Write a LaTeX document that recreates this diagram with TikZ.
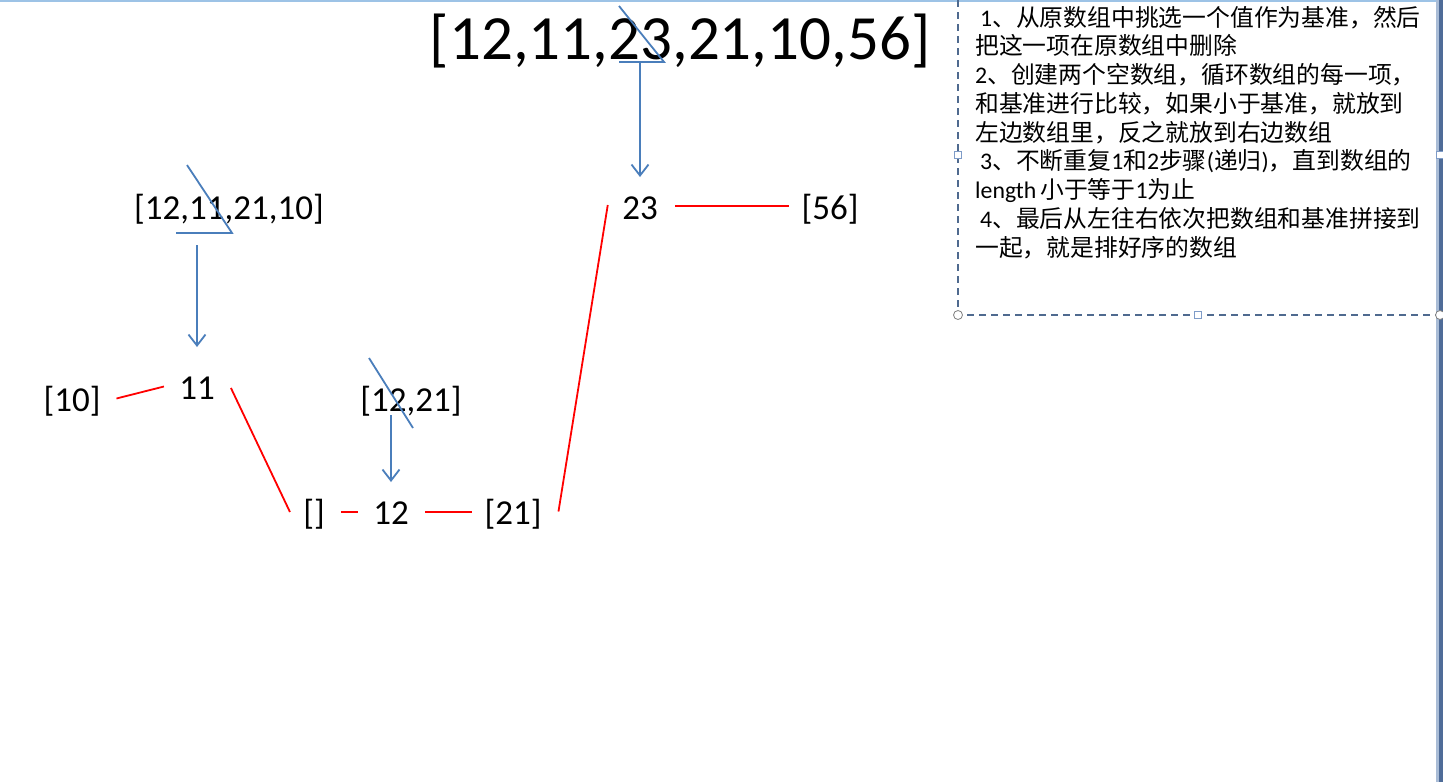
\documentclass[tikz,border=0pt]{standalone}
\usepackage{fontspec}
\setmainfont{Carlito}
\newfontfamily\cjk{Noto Sans CJK SC}
\usetikzlibrary{arrows.meta,calc}
\definecolor{arrowblue}{HTML}{4A7EBB}
\definecolor{boxline}{HTML}{4F6A8F}
\definecolor{handle}{HTML}{7F9CC8}
\definecolor{topline}{HTML}{9DC3E6}
\definecolor{barlight}{HTML}{A9BCD6}
\definecolor{bardark}{HTML}{4F6C98}
\tikzset{
  lbl/.style={font=\fontsize{35}{40}\selectfont, inner sep=0pt, anchor=base},
  biglbl/.style={font=\fontsize{63}{70}\selectfont, inner sep=0pt, anchor=base},
  tline/.style={font=\fontsize{23.8}{28}\selectfont, inner sep=0pt, anchor=base west},
  redline/.style={draw=red, line width=1.8pt},
  bluearrow/.style={draw=arrowblue, line width=1.8pt, -{Straight Barb[length=11pt,width=17pt,line width=1.8pt]}},
  strike/.style={draw=arrowblue, line width=1.8pt},
  sqhandle/.style={draw=handle, fill=white, line width=1pt, minimum size=7pt, inner sep=0pt},
  cirhandle/.style={circle, draw=gray, fill=white, line width=0.8pt, minimum size=9pt, inner sep=0pt}
}
\begin{document}
\begin{tikzpicture}[x=1pt,y=1pt]
\useasboundingbox (0,0) rectangle (1443,-782);
\fill[white] (0,0) rectangle (1443,-782);
% window edges
\fill[topline] (0,0) rectangle (1437,-2);
\fill[barlight] (1436,0) rectangle (1439,-782);
\fill[bardark] (1439,0) rectangle (1443,-782);

% text box
\draw[boxline, line width=1.2pt, dash pattern=on 7pt off 5pt] (958,0) -- (958,-315) -- (1440,-315);
\node[sqhandle] (h1) at (958,-155) {};
\node[sqhandle] (h2) at (1440,-155) {};
\node[sqhandle] (h3) at (1198,-315) {};
\node[cirhandle] (h4) at (958,-315) {};
\node[cirhandle] (h5) at (1440,-315) {};

\node[tline] (t1) at (980,-26) {1{\cjk 、从原数组中挑选一个值作为基准，然后}};
\node[tline] (t2) at (975,-54.75) {{\cjk 把这一项在原数组中删除}};
\node[tline] (t3) at (975,-83.5) {2{\cjk 、创建两个空数组，循环数组的每一项，}};
\node[tline] (t4) at (975,-112.25) {{\cjk 和基准进行比较，如果小于基准，就放到}};
\node[tline] (t5) at (975,-141) {{\cjk 左边数组里，反之就放到右边数组}};
\node[tline] (t6) at (980,-169.75) {3{\cjk 、不断重复}1{\cjk 和}2{\cjk 步骤}({\cjk 递归}){\cjk ，直到数组的}};
\node[tline] (t7) at (975,-198.5) {length\,{\cjk 小于等于}1{\cjk 为止}};
\node[tline] (t8) at (980,-227.25) {4{\cjk 、最后从左往右依次把数组和基准拼接到}};
\node[tline] (t9) at (975,-256) {{\cjk 一起，就是排好序的数组}};

% nodes
\node[biglbl] (big) at (680,-59) {[12,11,23,21,10,56]};
\node[lbl] (n23) at (640,-219) {23};
\node[lbl] (n56) at (830,-219) {[56]};
\node[lbl] (l4) at (229,-219) {[12,11,21,10]};
\node[lbl] (n11) at (197,-399) {11};
\node[lbl] (n10) at (72,-411) {[10]};
\node[lbl] (l2) at (411,-411) {[12,21]};
\node[lbl] (ne) at (314,-524) {[]};
\node[lbl] (n12) at (391,-524) {12};
\node[lbl] (n21) at (513,-524) {[21]};

% strike-out marks
\draw[strike] (619,-6) -- (664,-62) -- (619,-62);
\draw[strike] (187,-165) -- (232,-233) -- (176,-233);
\draw[strike] (369,-358) -- (413,-428);

% blue arrows
\draw[bluearrow] ($(big.base -| n23.base)+(0,-3)$) -- ($(n23.base)+(0,42)$);
\draw[bluearrow] ($(l4.base -| n11.base)+(0,-26)$) -- ($(n11.base)+(0,52)$);
\draw[bluearrow] ($(l2.base -| n12.base)+(0,-4)$) -- ($(n12.base)+(0,42)$);

% red connectors
\draw[redline] ($(n10.base east)+(15.8,12.5)$) -- ($(n11.base west)+(-15.1,12.5)$);
\draw[redline] ($(n11.base east)+(16,11)$) -- ($(ne.base west)+(-13.1,12)$);
\draw[redline] ($(ne.base east)+(16.1,12.3)$) -- ($(n12.base west)+(-14.9,12.3)$);
\draw[redline] ($(n12.base east)+(16.5,12.3)$) -- ($(n21.base west)+(-12.5,12.3)$);
\draw[redline] ($(n21.base east)+(16.8,12.5)$) -- ($(n23.base west)+(-14.3,14)$);
\draw[redline] ($(n23.base east)+(17.3,13)$) -- ($(n56.base west)+(-12.8,13)$);
\end{tikzpicture}
\end{document}
